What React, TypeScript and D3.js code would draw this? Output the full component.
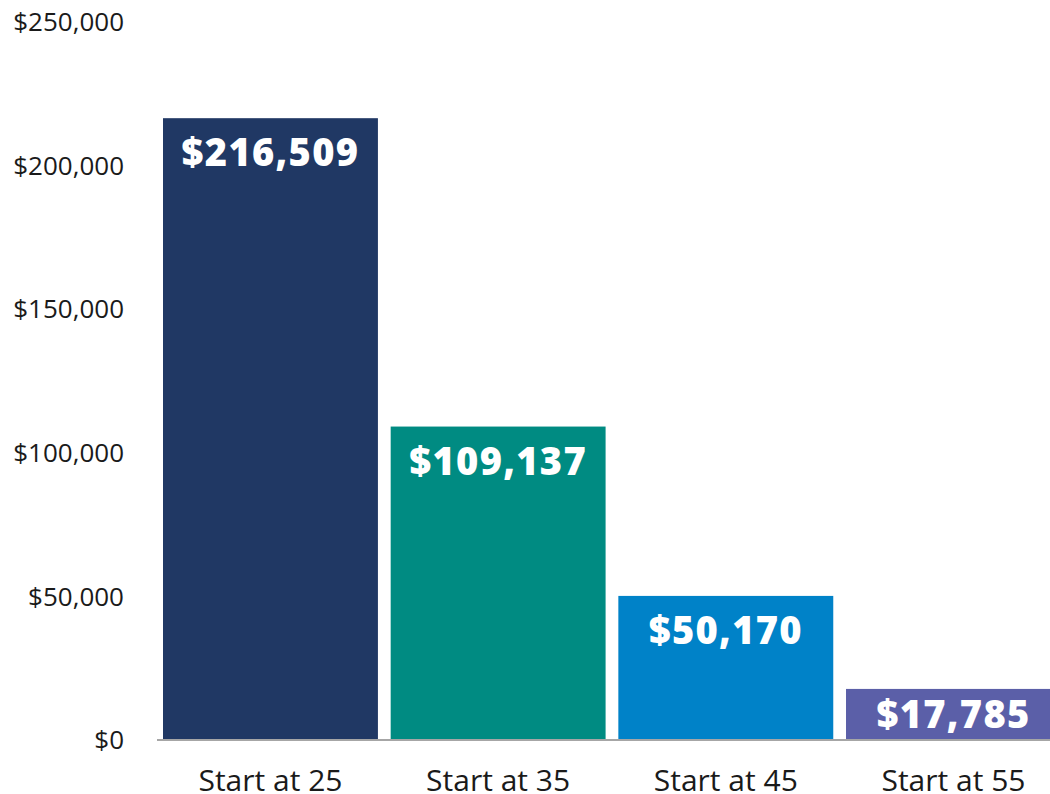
import React from "react";
import * as d3 from "d3";

const categories = ["Start at 25", "Start at 35", "Start at 45", "Start at 55"];
const values = [216509, 109137, 50170, 17785];
const valueLabels = ["$216,509", "$109,137", "$50,170", "$17,785"];
const colors = ["#203864", "#008B82", "#0082C8", "#5B5FA8"];
const yTicks = [0, 50000, 100000, 150000, 200000, 250000];

export default function App() {
  const W = 1050;
  const H = 794;
  const x0 = 163;
  const step = 227.67;
  const pad = 0.056;
  const x = d3
    .scaleBand<string>()
    .domain(categories)
    .range([x0, x0 + step * (categories.length - pad)])
    .paddingInner(pad)
    .paddingOuter(0);
  const y = d3.scaleLinear().domain([0, 250000]).range([740, 22]);
  const fmt = (v: number) => "$" + d3.format(",")(v);
  const font = "'Open Sans', 'Noto Sans', sans-serif";

  return (
    <svg
      width={W}
      height={H}
      style={{ position: "absolute", left: 0, top: 0, display: "block" }}
    >
      <rect x={0} y={0} width={W} height={H} fill="#fff" />
      {yTicks.map((t) => (
        <text
          key={t}
          x={124}
          y={y(t)}
          dy="0.35em"
          textAnchor="end"
          fontFamily={font}
          fontSize={26}
          fill="#1a1a1a"
        >
          {fmt(t)}
        </text>
      ))}
      {categories.map((c, i) => {
        const top = y(values[i]);
        const mid = (top + y(0)) / 2;
        const ly = Math.min(top + 48, mid + 13.5);
        return (
          <g key={c}>
            <rect
              x={x(c)!}
              y={top}
              width={x.bandwidth()}
              height={y(0) - top}
              fill={colors[i]}
            />
            <text
              x={x(c)! + x.bandwidth() / 2}
              y={ly}
              textAnchor="middle"
              fontFamily={font}
              fontWeight={800}
              fontSize={38}
              letterSpacing={1.3}
              fill="#fff"
            >
              {valueLabels[i]}
            </text>
            <text
              x={x(c)! + x.bandwidth() / 2}
              y={791}
              textAnchor="middle"
              fontFamily={font}
              fontSize={30}
              fill="#1a1a1a"
            >
              {c}
            </text>
          </g>
        );
      })}
      <line x1={157} x2={W} y1={740} y2={740} stroke="#a6a6a6" strokeWidth={2} />
    </svg>
  );
}
